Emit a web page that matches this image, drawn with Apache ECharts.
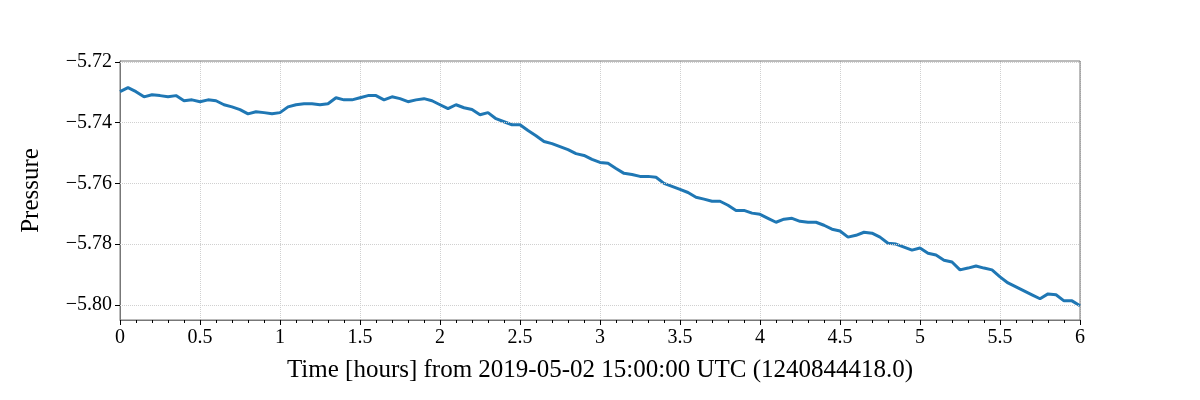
<!DOCTYPE html>
<html>
<head>
<meta charset="utf-8">
<script src="https://cdn.jsdelivr.net/npm/echarts@6/dist/echarts.min.js"></script>
<style>html,body{margin:0;background:#fff}#main{width:1200px;height:400px}</style>
</head>
<body>
<div id="main"></div>
<script>
// pressure sampled every 0.05 h
var step = 0.05;
var pressure = [
  -5.7298,-5.7285,-5.7298,-5.7315,-5.7308,-5.7311,-5.7315,-5.7311,-5.7328,-5.7325,
  -5.7331,-5.7325,-5.7328,-5.7341,-5.7348,-5.7357,-5.7371,-5.7364,-5.7367,-5.7371,
  -5.7367,-5.7348,-5.7341,-5.7338,-5.7338,-5.7341,-5.7338,-5.7318,-5.7325,-5.7325,
  -5.7318,-5.7311,-5.7311,-5.7325,-5.7315,-5.7321,-5.7331,-5.7325,-5.7321,-5.7328,
  -5.7341,-5.7354,-5.7341,-5.7351,-5.7357,-5.7374,-5.7367,-5.7387,-5.7397,-5.7407,
  -5.7407,-5.7426,-5.7443,-5.7462,-5.7469,-5.7479,-5.7489,-5.7502,-5.7508,
  -5.7521,-5.7531,-5.7534,-5.7551,-5.7567,-5.7571,-5.7577,-5.7577,-5.7580,-5.7600,
  -5.7610,-5.7620,-5.7630,-5.7646,-5.7652,-5.7659,-5.7659,-5.7672,-5.7689,-5.7689,
  -5.7698,-5.7702,-5.7715,-5.7728,-5.7718,-5.7715,-5.7725,-5.7728,-5.7728,-5.7738,
  -5.7751,-5.7757,-5.7777,-5.7771,-5.7761,-5.7764,-5.7777,-5.7797,-5.7800,-5.7810,
  -5.7820,-5.7813,-5.7830,-5.7836,-5.7853,-5.7859,-5.7885,-5.7879,-5.7872,-5.7879,
  -5.7885,-5.7908,-5.7928,-5.7941,-5.7954,-5.7967,-5.7980,-5.7964,-5.7967,-5.7987,
  -5.7987,-5.8003
];
var yTicks = [-5.80,-5.78,-5.76,-5.74,-5.72];
var xLabel = 'Time [hours] from 2019-05-02 15:00:00 UTC (1240844418.0)';
var yLabel = 'Pressure';

var data = pressure.map(function(v,i){ return [+(i*step).toFixed(2), v]; });
var font = 'Liberation Serif';
var chart = echarts.init(document.getElementById('main'));
chart.setOption({
  animation:false,
  grid:{left:120,right:120,top:61,bottom:80},
  xAxis:{
    type:'value',min:0,max:6,interval:0.5,
    name:xLabel,nameLocation:'middle',nameGap:38,
    nameTextStyle:{fontFamily:font,fontSize:25,color:'#000'},
    axisLine:{onZero:false,lineStyle:{color:'#777'}},
    axisTick:{inside:false,length:5,lineStyle:{color:'#000'}},
    minorTick:{show:true,splitNumber:5,length:3,lineStyle:{color:'#000'}},
    axisLabel:{fontFamily:font,fontSize:20,color:'#000',margin:8},
    splitLine:{show:true,lineStyle:{color:'#d0d0d0',type:'dotted'}}
  },
  yAxis:{
    type:'value',min:-5.805,max:-5.7197,
    name:yLabel,nameLocation:'middle',nameGap:76,
    nameTextStyle:{fontFamily:font,fontSize:25,color:'#000'},
    axisLine:{show:true,onZero:false,lineStyle:{color:'#777'}},
    axisTick:{show:true,length:5,customValues:yTicks,lineStyle:{color:'#000'}},
    axisLabel:{fontFamily:font,fontSize:20,color:'#000',customValues:yTicks,
      formatter:function(v){return '\u2212'+Math.abs(v).toFixed(2);}},
    splitLine:{show:false}
  },
  series:[{
    type:'line',data:data,showSymbol:false,
    lineStyle:{color:'#1f77b4',width:3},
    markLine:{silent:true,symbol:'none',label:{show:false},
      lineStyle:{color:'#d0d0d0',type:'dotted',width:1},
      data:yTicks.map(function(t){return {yAxis:t};})}
  }]
});
// frame top/right
chart.setOption({graphic:[{type:'rect',shape:{x:120,y:61,width:960,height:259},
  style:{fill:'none',stroke:'#777',lineWidth:1},silent:true}]});
</script>
</body>
</html>
